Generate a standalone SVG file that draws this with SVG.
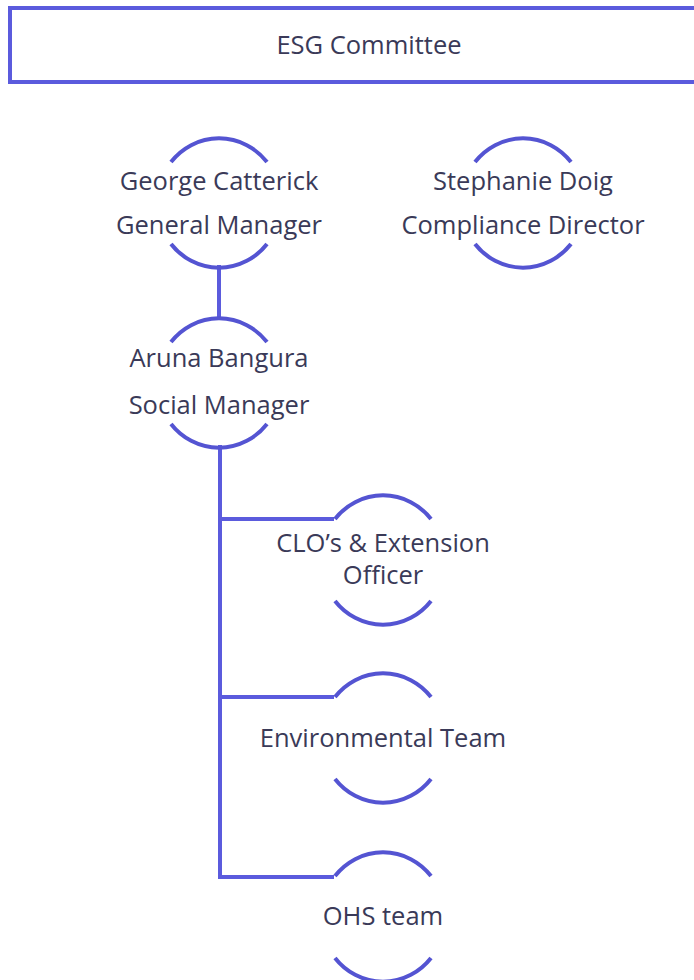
<svg xmlns="http://www.w3.org/2000/svg" width="694" height="980" viewBox="0 0 694 980">
<style>
.arc{fill:none;stroke:#5454d2;stroke-width:4}
.ln{fill:none;stroke:#5b5bdd;stroke-width:4}
.t{font-family:"Open Sans","Noto Sans",sans-serif;font-size:25.5px;fill:#3a3a58;text-anchor:middle}
</style>
<rect width="694" height="980" fill="#ffffff"/>
<g id="esg">
<rect x="10" y="8" width="700" height="74" fill="#fff" stroke="#5b5bdd" stroke-width="4"/>
<text class="t" x="369" y="54">ESG Committee</text>
</g>
<g id="connectors">
<path class="ln" d="M219 265 V320"/>
<path class="ln" d="M220 445 V877 H334"/>
<path class="ln" d="M220 519 H334"/>
<path class="ln" d="M220 697 H334"/>
</g>
<g id="george">
<path class="arc" d="M171 162 A62 64.5 0 0 1 267 162"/>
<path class="arc" d="M171 244 A62 64.5 0 0 0 267 244"/>
<text class="t" x="219" y="190">George Catterick</text>
<text class="t" x="219" y="234">General Manager</text>
</g>
<g id="stephanie">
<path class="arc" d="M475 162 A62 64.5 0 0 1 571 162"/>
<path class="arc" d="M475 244 A62 64.5 0 0 0 571 244"/>
<text class="t" x="523" y="190">Stephanie Doig</text>
<text class="t" x="523" y="234">Compliance Director</text>
</g>
<g id="aruna">
<path class="arc" d="M171 342 A62 64.5 0 0 1 267 342"/>
<path class="arc" d="M171 424 A62 64.5 0 0 0 267 424"/>
<text class="t" x="219" y="367">Aruna Bangura</text>
<text class="t" x="219" y="414">Social Manager</text>
</g>
<g id="clo">
<path class="arc" d="M335 519 A62 64.5 0 0 1 431 519"/>
<path class="arc" d="M335 601 A62 64.5 0 0 0 431 601"/>
<text class="t" x="383" y="552">CLO’s &amp; Extension</text>
<text class="t" x="383" y="584">Officer</text>
</g>
<g id="environmental">
<path class="arc" d="M335 697 A62 64.5 0 0 1 431 697"/>
<path class="arc" d="M335 779 A62 64.5 0 0 0 431 779"/>
<text class="t" x="383" y="747">Environmental Team</text>
</g>
<g id="ohs">
<path class="arc" d="M335 876 A62 64.5 0 0 1 431 876"/>
<path class="arc" d="M335 958 A62 64.5 0 0 0 431 958"/>
<text class="t" x="383" y="925">OHS team</text>
</g>
</svg>
